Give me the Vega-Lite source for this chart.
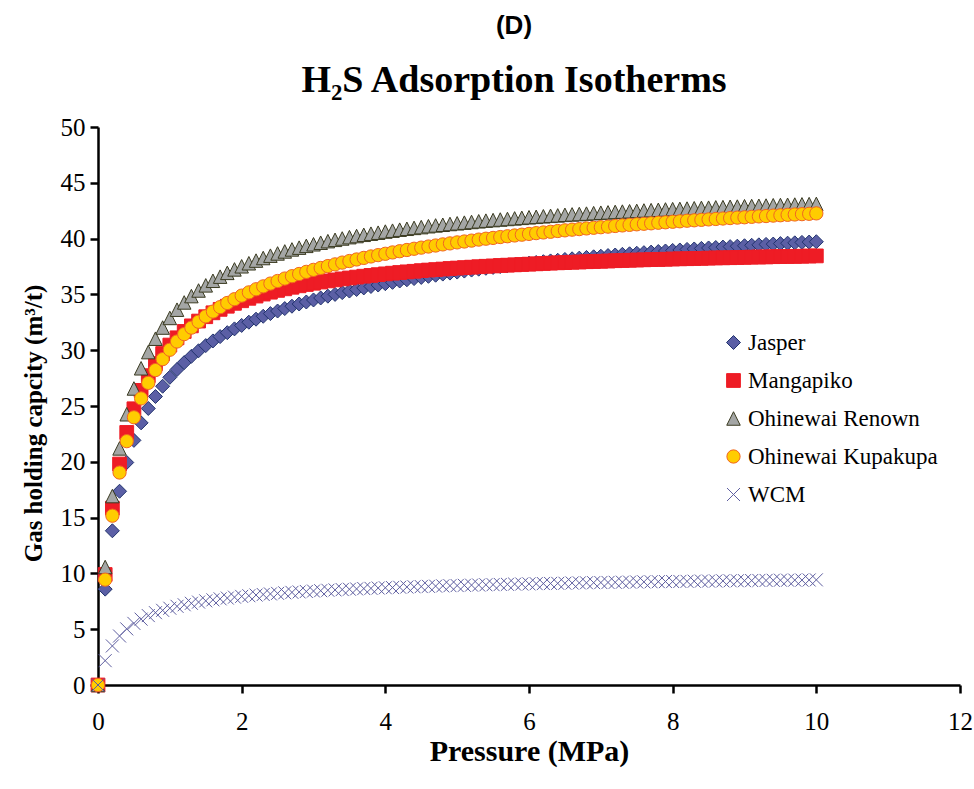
{
  "$schema": "https://vega.github.io/schema/vega-lite/v6.json",
  "width": 862,
  "height": 558,
  "autosize": {"type": "none"},
  "padding": {"left": 98, "top": 127, "right": 14, "bottom": 104},
  "background": "white",
  "title": {
    "text": "(D)",
    "subtitle": "H₂S Adsorption Isotherms",
    "anchor": "middle",
    "dx": -15,
    "font": "Liberation Sans",
    "fontSize": 26,
    "fontWeight": "bold",
    "color": "black",
    "subtitleFont": "Liberation Serif",
    "subtitleFontSize": 38,
    "subtitleFontWeight": "bold",
    "subtitleColor": "black",
    "subtitlePadding": 23,
    "offset": 15
  },
  "config": {
    "font": "Liberation Serif",
    "view": {"stroke": null},
    "axis": {
      "grid": false,
      "domainColor": "black",
      "domainWidth": 2.5,
      "tickColor": "black",
      "tickWidth": 2.5,
      "tickSize": 8,
      "labelFont": "Liberation Serif",
      "labelFontSize": 25,
      "labelColor": "black",
      "titleFont": "Liberation Serif",
      "titleFontWeight": "bold",
      "titleColor": "black"
    },
    "legend": {
      "orient": "none",
      "legendX": 624,
      "legendY": 204,
      "labelFont": "Liberation Serif",
      "labelFontSize": 23,
      "labelColor": "black",
      "labelLimit": 400,
      "rowPadding": 14,
      "labelOffset": 3
    }
  },
  "data": {
    "values": [
      {"s":"Jasper","p":0,"v":0},{"s":"Jasper","p":0.1,"v":8.59},{"s":"Jasper","p":0.2,"v":13.82},{"s":"Jasper","p":0.3,"v":17.36},{"s":"Jasper","p":0.4,"v":19.94},{"s":"Jasper","p":0.5,"v":21.92},{"s":"Jasper","p":0.6,"v":23.49},{"s":"Jasper","p":0.7,"v":24.78},{"s":"Jasper","p":0.8,"v":25.85},{"s":"Jasper","p":0.9,"v":26.77},{"s":"Jasper","p":1.0,"v":27.57},
      {"s":"Jasper","p":1.1,"v":28.27},{"s":"Jasper","p":1.2,"v":28.89},{"s":"Jasper","p":1.3,"v":29.45},{"s":"Jasper","p":1.4,"v":29.95},{"s":"Jasper","p":1.5,"v":30.41},{"s":"Jasper","p":1.6,"v":30.83},{"s":"Jasper","p":1.7,"v":31.22},{"s":"Jasper","p":1.8,"v":31.57},{"s":"Jasper","p":1.9,"v":31.91},{"s":"Jasper","p":2.0,"v":32.22},
      {"s":"Jasper","p":2.1,"v":32.51},{"s":"Jasper","p":2.2,"v":32.78},{"s":"Jasper","p":2.3,"v":33.04},{"s":"Jasper","p":2.4,"v":33.28},{"s":"Jasper","p":2.5,"v":33.51},{"s":"Jasper","p":2.6,"v":33.73},{"s":"Jasper","p":2.7,"v":33.94},{"s":"Jasper","p":2.8,"v":34.14},{"s":"Jasper","p":2.9,"v":34.32},{"s":"Jasper","p":3.0,"v":34.50},
      {"s":"Jasper","p":3.1,"v":34.68},{"s":"Jasper","p":3.2,"v":34.84},{"s":"Jasper","p":3.3,"v":35.00},{"s":"Jasper","p":3.4,"v":35.16},{"s":"Jasper","p":3.5,"v":35.30},{"s":"Jasper","p":3.6,"v":35.44},{"s":"Jasper","p":3.7,"v":35.58},{"s":"Jasper","p":3.8,"v":35.71},{"s":"Jasper","p":3.9,"v":35.84},{"s":"Jasper","p":4.0,"v":35.96},
      {"s":"Jasper","p":4.1,"v":36.08},{"s":"Jasper","p":4.2,"v":36.20},{"s":"Jasper","p":4.3,"v":36.31},{"s":"Jasper","p":4.4,"v":36.42},{"s":"Jasper","p":4.5,"v":36.52},{"s":"Jasper","p":4.6,"v":36.62},{"s":"Jasper","p":4.7,"v":36.72},{"s":"Jasper","p":4.8,"v":36.82},{"s":"Jasper","p":4.9,"v":36.91},{"s":"Jasper","p":5.0,"v":37.00},
      {"s":"Jasper","p":5.1,"v":37.09},{"s":"Jasper","p":5.2,"v":37.18},{"s":"Jasper","p":5.3,"v":37.26},{"s":"Jasper","p":5.4,"v":37.34},{"s":"Jasper","p":5.5,"v":37.42},{"s":"Jasper","p":5.6,"v":37.50},{"s":"Jasper","p":5.7,"v":37.58},{"s":"Jasper","p":5.8,"v":37.65},{"s":"Jasper","p":5.9,"v":37.72},{"s":"Jasper","p":6.0,"v":37.80},
      {"s":"Jasper","p":6.1,"v":37.86},{"s":"Jasper","p":6.2,"v":37.93},{"s":"Jasper","p":6.3,"v":38.00},{"s":"Jasper","p":6.4,"v":38.06},{"s":"Jasper","p":6.5,"v":38.13},{"s":"Jasper","p":6.6,"v":38.19},{"s":"Jasper","p":6.7,"v":38.25},{"s":"Jasper","p":6.8,"v":38.31},{"s":"Jasper","p":6.9,"v":38.37},{"s":"Jasper","p":7.0,"v":38.42},
      {"s":"Jasper","p":7.1,"v":38.48},{"s":"Jasper","p":7.2,"v":38.53},{"s":"Jasper","p":7.3,"v":38.59},{"s":"Jasper","p":7.4,"v":38.64},{"s":"Jasper","p":7.5,"v":38.69},{"s":"Jasper","p":7.6,"v":38.74},{"s":"Jasper","p":7.7,"v":38.79},{"s":"Jasper","p":7.8,"v":38.84},{"s":"Jasper","p":7.9,"v":38.89},{"s":"Jasper","p":8.0,"v":38.94},
      {"s":"Jasper","p":8.1,"v":38.98},{"s":"Jasper","p":8.2,"v":39.03},{"s":"Jasper","p":8.3,"v":39.07},{"s":"Jasper","p":8.4,"v":39.12},{"s":"Jasper","p":8.5,"v":39.16},{"s":"Jasper","p":8.6,"v":39.20},{"s":"Jasper","p":8.7,"v":39.24},{"s":"Jasper","p":8.8,"v":39.28},{"s":"Jasper","p":8.9,"v":39.32},{"s":"Jasper","p":9.0,"v":39.36},
      {"s":"Jasper","p":9.1,"v":39.40},{"s":"Jasper","p":9.2,"v":39.44},{"s":"Jasper","p":9.3,"v":39.48},{"s":"Jasper","p":9.4,"v":39.51},{"s":"Jasper","p":9.5,"v":39.55},{"s":"Jasper","p":9.6,"v":39.59},{"s":"Jasper","p":9.7,"v":39.62},{"s":"Jasper","p":9.8,"v":39.66},{"s":"Jasper","p":9.9,"v":39.69},{"s":"Jasper","p":10.0,"v":39.72},

      {"s":"Mangapiko","p":0,"v":0},{"s":"Mangapiko","p":0.1,"v":9.90},{"s":"Mangapiko","p":0.2,"v":15.84},{"s":"Mangapiko","p":0.3,"v":19.80},{"s":"Mangapiko","p":0.4,"v":22.63},{"s":"Mangapiko","p":0.5,"v":24.75},{"s":"Mangapiko","p":0.6,"v":26.40},{"s":"Mangapiko","p":0.7,"v":27.72},{"s":"Mangapiko","p":0.8,"v":28.80},{"s":"Mangapiko","p":0.9,"v":29.70},{"s":"Mangapiko","p":1.0,"v":30.46},
      {"s":"Mangapiko","p":1.1,"v":31.11},{"s":"Mangapiko","p":1.2,"v":31.68},{"s":"Mangapiko","p":1.3,"v":32.18},{"s":"Mangapiko","p":1.4,"v":32.61},{"s":"Mangapiko","p":1.5,"v":33.00},{"s":"Mangapiko","p":1.6,"v":33.35},{"s":"Mangapiko","p":1.7,"v":33.66},{"s":"Mangapiko","p":1.8,"v":33.94},{"s":"Mangapiko","p":1.9,"v":34.20},{"s":"Mangapiko","p":2.0,"v":34.43},
      {"s":"Mangapiko","p":2.1,"v":34.65},{"s":"Mangapiko","p":2.2,"v":34.85},{"s":"Mangapiko","p":2.3,"v":35.03},{"s":"Mangapiko","p":2.4,"v":35.20},{"s":"Mangapiko","p":2.5,"v":35.36},{"s":"Mangapiko","p":2.6,"v":35.50},{"s":"Mangapiko","p":2.7,"v":35.64},{"s":"Mangapiko","p":2.8,"v":35.77},{"s":"Mangapiko","p":2.9,"v":35.89},{"s":"Mangapiko","p":3.0,"v":36.00},
      {"s":"Mangapiko","p":3.1,"v":36.11},{"s":"Mangapiko","p":3.2,"v":36.21},{"s":"Mangapiko","p":3.3,"v":36.30},{"s":"Mangapiko","p":3.4,"v":36.39},{"s":"Mangapiko","p":3.5,"v":36.47},{"s":"Mangapiko","p":3.6,"v":36.55},{"s":"Mangapiko","p":3.7,"v":36.63},{"s":"Mangapiko","p":3.8,"v":36.70},{"s":"Mangapiko","p":3.9,"v":36.77},{"s":"Mangapiko","p":4.0,"v":36.84},
      {"s":"Mangapiko","p":4.1,"v":36.90},{"s":"Mangapiko","p":4.2,"v":36.96},{"s":"Mangapiko","p":4.3,"v":37.02},{"s":"Mangapiko","p":4.4,"v":37.07},{"s":"Mangapiko","p":4.5,"v":37.13},{"s":"Mangapiko","p":4.6,"v":37.18},{"s":"Mangapiko","p":4.7,"v":37.22},{"s":"Mangapiko","p":4.8,"v":37.27},{"s":"Mangapiko","p":4.9,"v":37.32},{"s":"Mangapiko","p":5.0,"v":37.36},
      {"s":"Mangapiko","p":5.1,"v":37.40},{"s":"Mangapiko","p":5.2,"v":37.44},{"s":"Mangapiko","p":5.3,"v":37.48},{"s":"Mangapiko","p":5.4,"v":37.52},{"s":"Mangapiko","p":5.5,"v":37.55},{"s":"Mangapiko","p":5.6,"v":37.59},{"s":"Mangapiko","p":5.7,"v":37.62},{"s":"Mangapiko","p":5.8,"v":37.65},{"s":"Mangapiko","p":5.9,"v":37.68},{"s":"Mangapiko","p":6.0,"v":37.71},
      {"s":"Mangapiko","p":6.1,"v":37.74},{"s":"Mangapiko","p":6.2,"v":37.77},{"s":"Mangapiko","p":6.3,"v":37.80},{"s":"Mangapiko","p":6.4,"v":37.83},{"s":"Mangapiko","p":6.5,"v":37.85},{"s":"Mangapiko","p":6.6,"v":37.88},{"s":"Mangapiko","p":6.7,"v":37.90},{"s":"Mangapiko","p":6.8,"v":37.93},{"s":"Mangapiko","p":6.9,"v":37.95},{"s":"Mangapiko","p":7.0,"v":37.97},
      {"s":"Mangapiko","p":7.1,"v":37.99},{"s":"Mangapiko","p":7.2,"v":38.02},{"s":"Mangapiko","p":7.3,"v":38.04},{"s":"Mangapiko","p":7.4,"v":38.06},{"s":"Mangapiko","p":7.5,"v":38.08},{"s":"Mangapiko","p":7.6,"v":38.10},{"s":"Mangapiko","p":7.7,"v":38.12},{"s":"Mangapiko","p":7.8,"v":38.13},{"s":"Mangapiko","p":7.9,"v":38.15},{"s":"Mangapiko","p":8.0,"v":38.17},
      {"s":"Mangapiko","p":8.1,"v":38.19},{"s":"Mangapiko","p":8.2,"v":38.20},{"s":"Mangapiko","p":8.3,"v":38.22},{"s":"Mangapiko","p":8.4,"v":38.23},{"s":"Mangapiko","p":8.5,"v":38.25},{"s":"Mangapiko","p":8.6,"v":38.27},{"s":"Mangapiko","p":8.7,"v":38.28},{"s":"Mangapiko","p":8.8,"v":38.29},{"s":"Mangapiko","p":8.9,"v":38.31},{"s":"Mangapiko","p":9.0,"v":38.32},
      {"s":"Mangapiko","p":9.1,"v":38.34},{"s":"Mangapiko","p":9.2,"v":38.35},{"s":"Mangapiko","p":9.3,"v":38.36},{"s":"Mangapiko","p":9.4,"v":38.38},{"s":"Mangapiko","p":9.5,"v":38.39},{"s":"Mangapiko","p":9.6,"v":38.40},{"s":"Mangapiko","p":9.7,"v":38.41},{"s":"Mangapiko","p":9.8,"v":38.42},{"s":"Mangapiko","p":9.9,"v":38.44},{"s":"Mangapiko","p":10.0,"v":38.45},

      {"s":"Ohinewai Renown","p":0,"v":0},{"s":"Ohinewai Renown","p":0.1,"v":10.57},{"s":"Ohinewai Renown","p":0.2,"v":16.93},{"s":"Ohinewai Renown","p":0.3,"v":21.20},{"s":"Ohinewai Renown","p":0.4,"v":24.26},{"s":"Ohinewai Renown","p":0.5,"v":26.57},{"s":"Ohinewai Renown","p":0.6,"v":28.38},{"s":"Ohinewai Renown","p":0.7,"v":29.83},{"s":"Ohinewai Renown","p":0.8,"v":31.03},{"s":"Ohinewai Renown","p":0.9,"v":32.03},{"s":"Ohinewai Renown","p":1.0,"v":32.89},
      {"s":"Ohinewai Renown","p":1.1,"v":33.63},{"s":"Ohinewai Renown","p":1.2,"v":34.28},{"s":"Ohinewai Renown","p":1.3,"v":34.85},{"s":"Ohinewai Renown","p":1.4,"v":35.35},{"s":"Ohinewai Renown","p":1.5,"v":35.81},{"s":"Ohinewai Renown","p":1.6,"v":36.22},{"s":"Ohinewai Renown","p":1.7,"v":36.59},{"s":"Ohinewai Renown","p":1.8,"v":36.93},{"s":"Ohinewai Renown","p":1.9,"v":37.24},{"s":"Ohinewai Renown","p":2.0,"v":37.52},
      {"s":"Ohinewai Renown","p":2.1,"v":37.79},{"s":"Ohinewai Renown","p":2.2,"v":38.03},{"s":"Ohinewai Renown","p":2.3,"v":38.26},{"s":"Ohinewai Renown","p":2.4,"v":38.47},{"s":"Ohinewai Renown","p":2.5,"v":38.67},{"s":"Ohinewai Renown","p":2.6,"v":38.85},{"s":"Ohinewai Renown","p":2.7,"v":39.03},{"s":"Ohinewai Renown","p":2.8,"v":39.19},{"s":"Ohinewai Renown","p":2.9,"v":39.35},{"s":"Ohinewai Renown","p":3.0,"v":39.49},
      {"s":"Ohinewai Renown","p":3.1,"v":39.63},{"s":"Ohinewai Renown","p":3.2,"v":39.77},{"s":"Ohinewai Renown","p":3.3,"v":39.89},{"s":"Ohinewai Renown","p":3.4,"v":40.01},{"s":"Ohinewai Renown","p":3.5,"v":40.13},{"s":"Ohinewai Renown","p":3.6,"v":40.23},{"s":"Ohinewai Renown","p":3.7,"v":40.34},{"s":"Ohinewai Renown","p":3.8,"v":40.44},{"s":"Ohinewai Renown","p":3.9,"v":40.53},{"s":"Ohinewai Renown","p":4.0,"v":40.63},
      {"s":"Ohinewai Renown","p":4.1,"v":40.71},{"s":"Ohinewai Renown","p":4.2,"v":40.80},{"s":"Ohinewai Renown","p":4.3,"v":40.88},{"s":"Ohinewai Renown","p":4.4,"v":40.96},{"s":"Ohinewai Renown","p":4.5,"v":41.03},{"s":"Ohinewai Renown","p":4.6,"v":41.11},{"s":"Ohinewai Renown","p":4.7,"v":41.18},{"s":"Ohinewai Renown","p":4.8,"v":41.24},{"s":"Ohinewai Renown","p":4.9,"v":41.31},{"s":"Ohinewai Renown","p":5.0,"v":41.37},
      {"s":"Ohinewai Renown","p":5.1,"v":41.43},{"s":"Ohinewai Renown","p":5.2,"v":41.49},{"s":"Ohinewai Renown","p":5.3,"v":41.55},{"s":"Ohinewai Renown","p":5.4,"v":41.61},{"s":"Ohinewai Renown","p":5.5,"v":41.66},{"s":"Ohinewai Renown","p":5.6,"v":41.71},{"s":"Ohinewai Renown","p":5.7,"v":41.76},{"s":"Ohinewai Renown","p":5.8,"v":41.81},{"s":"Ohinewai Renown","p":5.9,"v":41.86},{"s":"Ohinewai Renown","p":6.0,"v":41.91},
      {"s":"Ohinewai Renown","p":6.1,"v":41.95},{"s":"Ohinewai Renown","p":6.2,"v":42.00},{"s":"Ohinewai Renown","p":6.3,"v":42.04},{"s":"Ohinewai Renown","p":6.4,"v":42.08},{"s":"Ohinewai Renown","p":6.5,"v":42.13},{"s":"Ohinewai Renown","p":6.6,"v":42.17},{"s":"Ohinewai Renown","p":6.7,"v":42.20},{"s":"Ohinewai Renown","p":6.8,"v":42.24},{"s":"Ohinewai Renown","p":6.9,"v":42.28},{"s":"Ohinewai Renown","p":7.0,"v":42.32},
      {"s":"Ohinewai Renown","p":7.1,"v":42.35},{"s":"Ohinewai Renown","p":7.2,"v":42.39},{"s":"Ohinewai Renown","p":7.3,"v":42.42},{"s":"Ohinewai Renown","p":7.4,"v":42.45},{"s":"Ohinewai Renown","p":7.5,"v":42.48},{"s":"Ohinewai Renown","p":7.6,"v":42.52},{"s":"Ohinewai Renown","p":7.7,"v":42.55},{"s":"Ohinewai Renown","p":7.8,"v":42.58},{"s":"Ohinewai Renown","p":7.9,"v":42.61},{"s":"Ohinewai Renown","p":8.0,"v":42.64},
      {"s":"Ohinewai Renown","p":8.1,"v":42.66},{"s":"Ohinewai Renown","p":8.2,"v":42.69},{"s":"Ohinewai Renown","p":8.3,"v":42.72},{"s":"Ohinewai Renown","p":8.4,"v":42.75},{"s":"Ohinewai Renown","p":8.5,"v":42.77},{"s":"Ohinewai Renown","p":8.6,"v":42.80},{"s":"Ohinewai Renown","p":8.7,"v":42.82},{"s":"Ohinewai Renown","p":8.8,"v":42.85},{"s":"Ohinewai Renown","p":8.9,"v":42.87},{"s":"Ohinewai Renown","p":9.0,"v":42.90},
      {"s":"Ohinewai Renown","p":9.1,"v":42.92},{"s":"Ohinewai Renown","p":9.2,"v":42.94},{"s":"Ohinewai Renown","p":9.3,"v":42.96},{"s":"Ohinewai Renown","p":9.4,"v":42.99},{"s":"Ohinewai Renown","p":9.5,"v":43.01},{"s":"Ohinewai Renown","p":9.6,"v":43.03},{"s":"Ohinewai Renown","p":9.7,"v":43.05},{"s":"Ohinewai Renown","p":9.8,"v":43.07},{"s":"Ohinewai Renown","p":9.9,"v":43.09},{"s":"Ohinewai Renown","p":10.0,"v":43.11},

      {"s":"Ohinewai Kupakupa","p":0,"v":0},{"s":"Ohinewai Kupakupa","p":0.1,"v":9.44},{"s":"Ohinewai Kupakupa","p":0.2,"v":15.17},{"s":"Ohinewai Kupakupa","p":0.3,"v":19.04},{"s":"Ohinewai Kupakupa","p":0.4,"v":21.85},{"s":"Ohinewai Kupakupa","p":0.5,"v":23.99},{"s":"Ohinewai Kupakupa","p":0.6,"v":25.68},{"s":"Ohinewai Kupakupa","p":0.7,"v":27.07},{"s":"Ohinewai Kupakupa","p":0.8,"v":28.22},{"s":"Ohinewai Kupakupa","p":0.9,"v":29.20},{"s":"Ohinewai Kupakupa","p":1.0,"v":30.04},
      {"s":"Ohinewai Kupakupa","p":1.1,"v":30.78},{"s":"Ohinewai Kupakupa","p":1.2,"v":31.44},{"s":"Ohinewai Kupakupa","p":1.3,"v":32.02},{"s":"Ohinewai Kupakupa","p":1.4,"v":32.55},{"s":"Ohinewai Kupakupa","p":1.5,"v":33.03},{"s":"Ohinewai Kupakupa","p":1.6,"v":33.46},{"s":"Ohinewai Kupakupa","p":1.7,"v":33.86},{"s":"Ohinewai Kupakupa","p":1.8,"v":34.23},{"s":"Ohinewai Kupakupa","p":1.9,"v":34.57},{"s":"Ohinewai Kupakupa","p":2.0,"v":34.89},
      {"s":"Ohinewai Kupakupa","p":2.1,"v":35.18},{"s":"Ohinewai Kupakupa","p":2.2,"v":35.46},{"s":"Ohinewai Kupakupa","p":2.3,"v":35.72},{"s":"Ohinewai Kupakupa","p":2.4,"v":35.97},{"s":"Ohinewai Kupakupa","p":2.5,"v":36.20},{"s":"Ohinewai Kupakupa","p":2.6,"v":36.42},{"s":"Ohinewai Kupakupa","p":2.7,"v":36.63},{"s":"Ohinewai Kupakupa","p":2.8,"v":36.83},{"s":"Ohinewai Kupakupa","p":2.9,"v":37.02},{"s":"Ohinewai Kupakupa","p":3.0,"v":37.20},
      {"s":"Ohinewai Kupakupa","p":3.1,"v":37.37},{"s":"Ohinewai Kupakupa","p":3.2,"v":37.54},{"s":"Ohinewai Kupakupa","p":3.3,"v":37.69},{"s":"Ohinewai Kupakupa","p":3.4,"v":37.85},{"s":"Ohinewai Kupakupa","p":3.5,"v":37.99},{"s":"Ohinewai Kupakupa","p":3.6,"v":38.13},{"s":"Ohinewai Kupakupa","p":3.7,"v":38.27},{"s":"Ohinewai Kupakupa","p":3.8,"v":38.40},{"s":"Ohinewai Kupakupa","p":3.9,"v":38.52},{"s":"Ohinewai Kupakupa","p":4.0,"v":38.64},
      {"s":"Ohinewai Kupakupa","p":4.1,"v":38.76},{"s":"Ohinewai Kupakupa","p":4.2,"v":38.87},{"s":"Ohinewai Kupakupa","p":4.3,"v":38.98},{"s":"Ohinewai Kupakupa","p":4.4,"v":39.09},{"s":"Ohinewai Kupakupa","p":4.5,"v":39.19},{"s":"Ohinewai Kupakupa","p":4.6,"v":39.29},{"s":"Ohinewai Kupakupa","p":4.7,"v":39.38},{"s":"Ohinewai Kupakupa","p":4.8,"v":39.48},{"s":"Ohinewai Kupakupa","p":4.9,"v":39.57},{"s":"Ohinewai Kupakupa","p":5.0,"v":39.66},
      {"s":"Ohinewai Kupakupa","p":5.1,"v":39.74},{"s":"Ohinewai Kupakupa","p":5.2,"v":39.82},{"s":"Ohinewai Kupakupa","p":5.3,"v":39.91},{"s":"Ohinewai Kupakupa","p":5.4,"v":39.99},{"s":"Ohinewai Kupakupa","p":5.5,"v":40.06},{"s":"Ohinewai Kupakupa","p":5.6,"v":40.14},{"s":"Ohinewai Kupakupa","p":5.7,"v":40.21},{"s":"Ohinewai Kupakupa","p":5.8,"v":40.28},{"s":"Ohinewai Kupakupa","p":5.9,"v":40.35},{"s":"Ohinewai Kupakupa","p":6.0,"v":40.42},
      {"s":"Ohinewai Kupakupa","p":6.1,"v":40.49},{"s":"Ohinewai Kupakupa","p":6.2,"v":40.55},{"s":"Ohinewai Kupakupa","p":6.3,"v":40.61},{"s":"Ohinewai Kupakupa","p":6.4,"v":40.68},{"s":"Ohinewai Kupakupa","p":6.5,"v":40.74},{"s":"Ohinewai Kupakupa","p":6.6,"v":40.80},{"s":"Ohinewai Kupakupa","p":6.7,"v":40.85},{"s":"Ohinewai Kupakupa","p":6.8,"v":40.91},{"s":"Ohinewai Kupakupa","p":6.9,"v":40.97},{"s":"Ohinewai Kupakupa","p":7.0,"v":41.02},
      {"s":"Ohinewai Kupakupa","p":7.1,"v":41.07},{"s":"Ohinewai Kupakupa","p":7.2,"v":41.13},{"s":"Ohinewai Kupakupa","p":7.3,"v":41.18},{"s":"Ohinewai Kupakupa","p":7.4,"v":41.23},{"s":"Ohinewai Kupakupa","p":7.5,"v":41.28},{"s":"Ohinewai Kupakupa","p":7.6,"v":41.33},{"s":"Ohinewai Kupakupa","p":7.7,"v":41.37},{"s":"Ohinewai Kupakupa","p":7.8,"v":41.42},{"s":"Ohinewai Kupakupa","p":7.9,"v":41.46},{"s":"Ohinewai Kupakupa","p":8.0,"v":41.51},
      {"s":"Ohinewai Kupakupa","p":8.1,"v":41.55},{"s":"Ohinewai Kupakupa","p":8.2,"v":41.60},{"s":"Ohinewai Kupakupa","p":8.3,"v":41.64},{"s":"Ohinewai Kupakupa","p":8.4,"v":41.68},{"s":"Ohinewai Kupakupa","p":8.5,"v":41.72},{"s":"Ohinewai Kupakupa","p":8.6,"v":41.76},{"s":"Ohinewai Kupakupa","p":8.7,"v":41.80},{"s":"Ohinewai Kupakupa","p":8.8,"v":41.84},{"s":"Ohinewai Kupakupa","p":8.9,"v":41.88},{"s":"Ohinewai Kupakupa","p":9.0,"v":41.91},
      {"s":"Ohinewai Kupakupa","p":9.1,"v":41.95},{"s":"Ohinewai Kupakupa","p":9.2,"v":41.99},{"s":"Ohinewai Kupakupa","p":9.3,"v":42.02},{"s":"Ohinewai Kupakupa","p":9.4,"v":42.06},{"s":"Ohinewai Kupakupa","p":9.5,"v":42.09},{"s":"Ohinewai Kupakupa","p":9.6,"v":42.13},{"s":"Ohinewai Kupakupa","p":9.7,"v":42.16},{"s":"Ohinewai Kupakupa","p":9.8,"v":42.19},{"s":"Ohinewai Kupakupa","p":9.9,"v":42.22},{"s":"Ohinewai Kupakupa","p":10.0,"v":42.26},

      {"s":"WCM","p":0,"v":0},{"s":"WCM","p":0.1,"v":2.18},{"s":"WCM","p":0.2,"v":3.50},{"s":"WCM","p":0.3,"v":4.39},{"s":"WCM","p":0.4,"v":5.03},{"s":"WCM","p":0.5,"v":5.52},{"s":"WCM","p":0.6,"v":5.90},{"s":"WCM","p":0.7,"v":6.22},{"s":"WCM","p":0.8,"v":6.48},{"s":"WCM","p":0.9,"v":6.69},{"s":"WCM","p":1.0,"v":6.88},
      {"s":"WCM","p":1.1,"v":7.05},{"s":"WCM","p":1.2,"v":7.19},{"s":"WCM","p":1.3,"v":7.32},{"s":"WCM","p":1.4,"v":7.43},{"s":"WCM","p":1.5,"v":7.54},{"s":"WCM","p":1.6,"v":7.63},{"s":"WCM","p":1.7,"v":7.72},{"s":"WCM","p":1.8,"v":7.79},{"s":"WCM","p":1.9,"v":7.87},{"s":"WCM","p":2.0,"v":7.94},
      {"s":"WCM","p":2.1,"v":8.00},{"s":"WCM","p":2.2,"v":8.06},{"s":"WCM","p":2.3,"v":8.11},{"s":"WCM","p":2.4,"v":8.16},{"s":"WCM","p":2.5,"v":8.21},{"s":"WCM","p":2.6,"v":8.26},{"s":"WCM","p":2.7,"v":8.30},{"s":"WCM","p":2.8,"v":8.34},{"s":"WCM","p":2.9,"v":8.38},{"s":"WCM","p":3.0,"v":8.42},
      {"s":"WCM","p":3.1,"v":8.45},{"s":"WCM","p":3.2,"v":8.49},{"s":"WCM","p":3.3,"v":8.52},{"s":"WCM","p":3.4,"v":8.55},{"s":"WCM","p":3.5,"v":8.58},{"s":"WCM","p":3.6,"v":8.61},{"s":"WCM","p":3.7,"v":8.64},{"s":"WCM","p":3.8,"v":8.66},{"s":"WCM","p":3.9,"v":8.69},{"s":"WCM","p":4.0,"v":8.71},
      {"s":"WCM","p":4.1,"v":8.73},{"s":"WCM","p":4.2,"v":8.76},{"s":"WCM","p":4.3,"v":8.78},{"s":"WCM","p":4.4,"v":8.80},{"s":"WCM","p":4.5,"v":8.82},{"s":"WCM","p":4.6,"v":8.84},{"s":"WCM","p":4.7,"v":8.86},{"s":"WCM","p":4.8,"v":8.88},{"s":"WCM","p":4.9,"v":8.90},{"s":"WCM","p":5.0,"v":8.91},
      {"s":"WCM","p":5.1,"v":8.93},{"s":"WCM","p":5.2,"v":8.95},{"s":"WCM","p":5.3,"v":8.96},{"s":"WCM","p":5.4,"v":8.98},{"s":"WCM","p":5.5,"v":8.99},{"s":"WCM","p":5.6,"v":9.01},{"s":"WCM","p":5.7,"v":9.02},{"s":"WCM","p":5.8,"v":9.04},{"s":"WCM","p":5.9,"v":9.05},{"s":"WCM","p":6.0,"v":9.06},
      {"s":"WCM","p":6.1,"v":9.08},{"s":"WCM","p":6.2,"v":9.09},{"s":"WCM","p":6.3,"v":9.10},{"s":"WCM","p":6.4,"v":9.11},{"s":"WCM","p":6.5,"v":9.12},{"s":"WCM","p":6.6,"v":9.14},{"s":"WCM","p":6.7,"v":9.15},{"s":"WCM","p":6.8,"v":9.16},{"s":"WCM","p":6.9,"v":9.17},{"s":"WCM","p":7.0,"v":9.18},
      {"s":"WCM","p":7.1,"v":9.19},{"s":"WCM","p":7.2,"v":9.20},{"s":"WCM","p":7.3,"v":9.21},{"s":"WCM","p":7.4,"v":9.22},{"s":"WCM","p":7.5,"v":9.23},{"s":"WCM","p":7.6,"v":9.24},{"s":"WCM","p":7.7,"v":9.25},{"s":"WCM","p":7.8,"v":9.26},{"s":"WCM","p":7.9,"v":9.27},{"s":"WCM","p":8.0,"v":9.27},
      {"s":"WCM","p":8.1,"v":9.28},{"s":"WCM","p":8.2,"v":9.29},{"s":"WCM","p":8.3,"v":9.30},{"s":"WCM","p":8.4,"v":9.31},{"s":"WCM","p":8.5,"v":9.31},{"s":"WCM","p":8.6,"v":9.32},{"s":"WCM","p":8.7,"v":9.33},{"s":"WCM","p":8.8,"v":9.34},{"s":"WCM","p":8.9,"v":9.34},{"s":"WCM","p":9.0,"v":9.35},
      {"s":"WCM","p":9.1,"v":9.36},{"s":"WCM","p":9.2,"v":9.37},{"s":"WCM","p":9.3,"v":9.37},{"s":"WCM","p":9.4,"v":9.38},{"s":"WCM","p":9.5,"v":9.39},{"s":"WCM","p":9.6,"v":9.39},{"s":"WCM","p":9.7,"v":9.40},{"s":"WCM","p":9.8,"v":9.40},{"s":"WCM","p":9.9,"v":9.41},{"s":"WCM","p":10.0,"v":9.42}
    ]
  },
  "mark": {"type": "point", "filled": true, "opacity": 1},
  "encoding": {
    "x": {
      "field": "p",
      "type": "quantitative",
      "scale": {"domain": [0, 12], "nice": false},
      "axis": {
        "title": "Pressure (MPa)",
        "values": [0, 2, 4, 6, 8, 10, 12],
        "labelFlush": false,
        "labelFont": "Liberation Serif",
        "labelFontSize": 25,
        "labelPadding": 16,
        "titleFont": "Liberation Serif",
        "titleFontSize": 30,
        "titlePadding": 2
      }
    },
    "y": {
      "field": "v",
      "type": "quantitative",
      "scale": {"domain": [0, 50], "nice": false},
      "axis": {
        "title": "Gas holding capcity (m³/t)",
        "values": [0, 5, 10, 15, 20, 25, 30, 35, 40, 45, 50],
        "labelFont": "Liberation Serif",
        "labelFontSize": 25,
        "labelPadding": 5,
        "titleFont": "Liberation Serif",
        "titleFontSize": 25,
        "titlePadding": 14,
        "titleY": 296
      }
    },
    "shape": {
      "field": "s",
      "type": "nominal",
      "scale": {
        "domain": ["Jasper", "Mangapiko", "Ohinewai Renown", "Ohinewai Kupakupa", "WCM"],
        "range": ["diamond", "square", "M0,-1L1,1L-1,1Z", "circle", "M-1,-1L1,1M-1,1L1,-1"]
      },
      "legend": {"title": null, "labelFont": "Liberation Serif", "labelFontSize": 23, "labelLimit": 400}
    },
    "fill": {
      "field": "s",
      "type": "nominal",
      "scale": {
        "domain": ["Jasper", "Mangapiko", "Ohinewai Renown", "Ohinewai Kupakupa", "WCM"],
        "range": ["#5B5FA5", "#EE1C25", "#A4A6A5", "#FFCC00", "transparent"]
      },
      "legend": {"title": null, "labelFont": "Liberation Serif", "labelFontSize": 23, "labelLimit": 400}
    },
    "stroke": {
      "field": "s",
      "type": "nominal",
      "scale": {
        "domain": ["Jasper", "Mangapiko", "Ohinewai Renown", "Ohinewai Kupakupa", "WCM"],
        "range": ["#22346E", "#EE1C25", "#3A3A20", "#F26522", "#5E5EA0"]
      },
      "legend": {"title": null, "labelFont": "Liberation Serif", "labelFontSize": 23, "labelLimit": 400}
    },
    "size": {
      "field": "s",
      "type": "nominal",
      "scale": {
        "domain": ["Jasper", "Mangapiko", "Ohinewai Renown", "Ohinewai Kupakupa", "WCM"],
        "range": [196, 169, 196, 169, 196]
      },
      "legend": {"title": null, "labelFont": "Liberation Serif", "labelFontSize": 23, "labelLimit": 400}
    },
    "strokeWidth": {
      "field": "s",
      "type": "nominal",
      "scale": {
        "domain": ["Jasper", "Mangapiko", "Ohinewai Renown", "Ohinewai Kupakupa", "WCM"],
        "range": [1, 1, 1, 1, 1.8]
      },
      "legend": {"title": null, "labelFont": "Liberation Serif", "labelFontSize": 23, "labelLimit": 400}
    }
  }
}
